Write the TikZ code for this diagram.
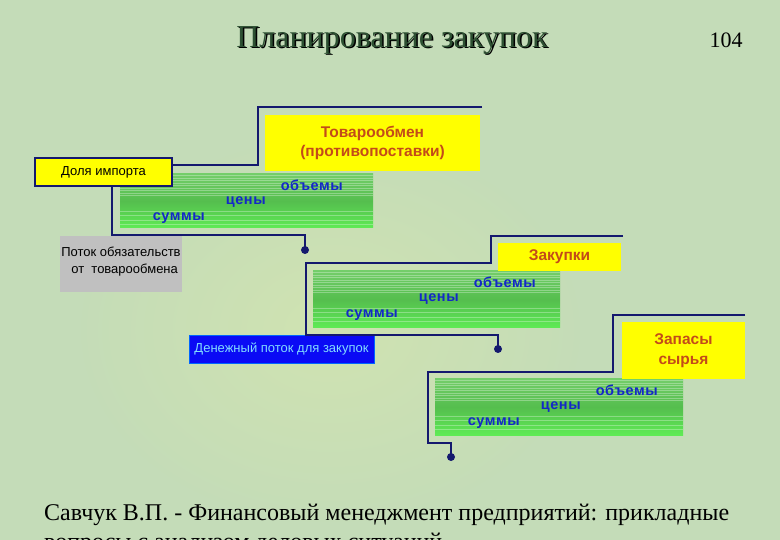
\documentclass[tikz,border=0pt]{standalone}
\usepackage{fontspec}
\setmainfont{Liberation Serif}
\newfontfamily\arialf{Liberation Sans}
\newfontfamily\arialsp[LetterSpace=4]{Liberation Sans}
\definecolor{bgc}{RGB}{196,220,184}
\definecolor{navy}{RGB}{20,25,110}
\definecolor{ylw}{RGB}{255,255,0}
\definecolor{brn}{RGB}{195,75,25}
\definecolor{bluet}{RGB}{20,40,200}
\definecolor{grayb}{RGB}{192,192,192}
\definecolor{denb}{RGB}{10,10,245}
\definecolor{dent}{RGB}{130,220,255}
\definecolor{titleg}{RGB}{45,80,50}
\definecolor{gtop}{RGB}{115,205,105}
\definecolor{gmid}{RGB}{85,190,78}
\definecolor{gbot}{RGB}{95,235,85}
\tikzset{
  conn/.style={draw=navy, line width=1.6pt},
  dotc/.style={circle, fill=navy, inner sep=0pt, minimum size=8pt},
  ybox/.style={fill=ylw, inner sep=0pt, align=center, text=brn,
     font=\arialf\bfseries\fontsize{15.5}{19.5}\selectfont},
  smallbox/.style={inner sep=0pt, font=\arialf\fontsize{13}{17}\selectfont},
  gbox/.style={inner sep=0pt, top color=gtop, bottom color=gbot, middle color=gmid,
    path picture={
      \foreach \k in {1.5,4,6.5,9,11.5,14,16.5,19,21.5,37,41,46,50}{
        \draw[white, opacity=0.3, line width=0.8pt]
          ([yshift=-\k pt]path picture bounding box.north west) --
          ([yshift=-\k pt]path picture bounding box.north east);}
    }},
  gtext/.style={text=bluet, inner sep=0pt, font=\arialsp\bfseries\fontsize{14.5}{17}\selectfont}
}
\begin{document}
\begin{tikzpicture}[x=1pt,y=-1pt]
\useasboundingbox (0,0) rectangle (780,540);
\clip (0,0) rectangle (780,540);
\fill[bgc] (0,0) rectangle (780,540);
\shade[inner color=white!60!yellow!40!bgc, outer color=bgc, opacity=0.5] (330,330) ellipse (260 and 200);

% title
\node[text=black, font=\fontsize{32}{36}\selectfont] at (393.5,41.5) {Планирование закупок};
\node (title) [text=titleg, font=\fontsize{32}{36}\selectfont] at (392,40) {Планирование закупок};
\node (num) [font=\fontsize{22}{26}\selectfont] at (726,40) {104};

% boxes
\node (g1) [gbox, minimum width=253pt, minimum height=54pt] at (246.5,201) {};
\node (g2) [gbox, minimum width=247pt, minimum height=57pt] at (436.5,299.5) {};
\node (g3) [gbox, minimum width=248pt, minimum height=56pt] at (559,407) {};

\foreach \g in {g1,g2,g3}{
  \node[gtext] at ([xshift=192pt,yshift=-11pt]\g.north west) {объемы};
  \node[gtext] at ([xshift=126pt,yshift=-28pt]\g.north west) {цены};
  \node[gtext] at ([xshift=59pt,yshift=-44pt]\g.north west) {суммы};
}

\node (tov) [ybox, minimum width=215pt, minimum height=56pt] at (372.5,143) {Товарообмен\\(противопоставки)};
\node (zak) [ybox, minimum width=123pt, minimum height=28pt] at (559.5,257) {Закупки};
\node (zap) [ybox, minimum width=123pt, minimum height=57pt] at (683.5,350.5) {Запасы\\сырья};

\node (dolya) [smallbox, fill=ylw, draw=navy, line width=1.2pt, minimum width=137pt, minimum height=28pt] at (103.5,172) {Доля импорта};
\node (potok) [smallbox, fill=grayb, minimum width=122pt, minimum height=56pt] at (121,264) {};
\node (potokt) [smallbox, anchor=north, align=center] at ([yshift=-11pt]potok.north) {Поток обязательств\\\ \ от\ \ товарообмена};
\node (den) [smallbox, fill=denb, draw=blue!60!cyan, line width=0.6pt, text=dent, minimum width=185pt, minimum height=28pt] at (281.5,349) {Денежный поток для закупок};

% connectors
\coordinate (a0) at (482,107);
\coordinate (a1) at (258,107);
\coordinate (a2) at (258,165);
\draw[conn] (a0) -- (a1) -- (a2) -- (dolya.east |- a2);

\coordinate (b1) at (112,235);
\coordinate (b2) at (305,235);
\node (d1) [dotc] at (305,250) {};
\draw[conn] (dolya.south -| b1) -- (b1) -- (b2) -- (d1.center);

\coordinate (c0) at (623,236);
\coordinate (c1) at (491,236);
\coordinate (c2) at (491,263);
\coordinate (c3) at (306,263);
\coordinate (c4) at (306,335);
\coordinate (c5) at (498,335);
\node (d2) [dotc] at (498,349) {};
\draw[conn] (c0) -- (c1) -- (c2) -- (c3) -- (c4) -- (c5) -- (d2.center);

\coordinate (e0) at (745,315);
\coordinate (e1) at (613,315);
\coordinate (e2) at (613,372);
\coordinate (e3) at (428,372);
\coordinate (e4) at (428,443);
\coordinate (e5) at (451,443);
\node (d3) [dotc] at (451,457) {};
\draw[conn] (e0) -- (e1) -- (e2) -- (e3) -- (e4) -- (e5) -- (d3.center);

% footer
\node (foot1) [anchor=base west, font=\fontsize{24}{27}\selectfont, inner sep=0pt] at (44,520) {Савчук В.П. - Финансовый менеджмент предприятий: прикладные};
\node (foot2) [anchor=base west, font=\fontsize{24}{27}\selectfont, inner sep=0pt] at (44,549) {вопросы с анализом деловых ситуаций};
\end{tikzpicture}
\end{document}
